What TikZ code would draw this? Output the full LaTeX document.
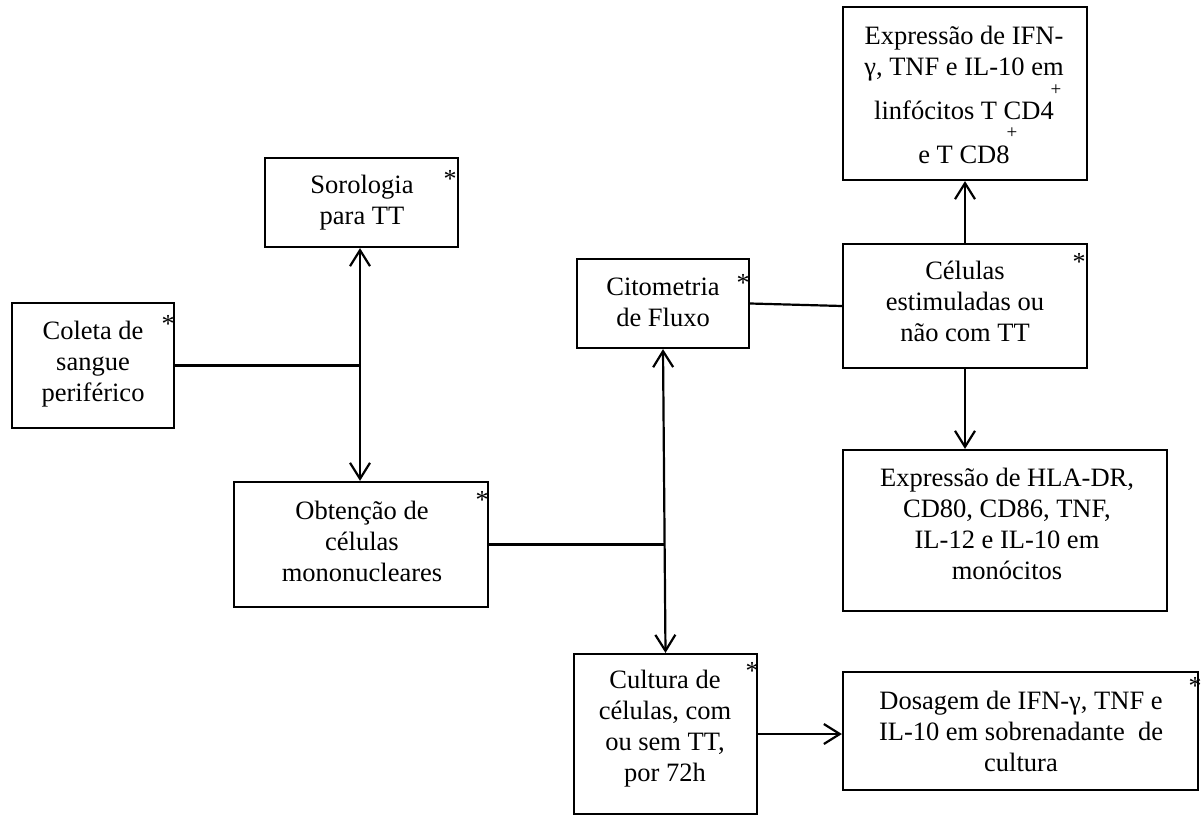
\documentclass[tikz,border=0pt]{standalone}
\usepackage{fontspec}
\setmainfont{Liberation Serif}
\usetikzlibrary{arrows.meta,calc}
\begin{document}
\begin{tikzpicture}[x=1pt,y=-1pt,
  box/.style={draw, line width=2.2pt, inner sep=0pt},
  txt/.style={align=center, inner sep=0pt, font=\fontsize{26.5}{31}\selectfont},
  ast/.style={inner sep=0pt, font=\fontsize{26}{26}\selectfont},
  plusmark/.style={inner sep=0pt, font=\fontsize{19}{19}\selectfont},
  conn/.style={line width=2.2pt},
  arr/.style={conn, -{Straight Barb[length=16pt,width=20pt]}},
  darr/.style={conn, {Straight Barb[length=16pt,width=20pt]}-{Straight Barb[length=16pt,width=20pt]}}
]
\useasboundingbox (0,0) rectangle (1202,816);

% boxes
\node[box, minimum width=162pt, minimum height=125pt] (coleta) at (93,365.5) {};
\node[box, minimum width=193pt, minimum height=89pt] (soro) at (361.5,202.5) {};
\node[box, minimum width=254pt, minimum height=125pt] (obt) at (361,544.5) {};
\node[box, minimum width=172pt, minimum height=89pt] (cit) at (663,303.5) {};
\node[box, minimum width=244pt, minimum height=124pt] (cel) at (965,306) {};
\node[box, minimum width=244pt, minimum height=173pt] (top) at (965,93.5) {};
\node[box, minimum width=324pt, minimum height=161pt] (hla) at (1005,530.5) {};
\node[box, minimum width=183pt, minimum height=160pt] (cult) at (665.5,734) {};
\node[box, minimum width=355pt, minimum height=118pt] (dos) at (1020.5,731) {};

% texts
\node[txt] (coleta-t) at (93,364) {Coleta de\\sangue\\periférico};
\node[txt] (soro-t) at (362,202.5) {Sorologia\\para TT};
\node[txt] (obt-t) at (362,541) {Obtenção de\\células\\mononucleares};
\node[txt] (cit-t) at (663,302.5) {Citometria\\de Fluxo};
\node[txt] (cel-t) at (965,301) {Células\\estimuladas ou\\não com TT};
\node[txt] (top-t) at (964,95) {Expressão de IFN-\\γ, TNF e IL-10 em\\[13pt]linfócitos T CD4\\[13pt]e T CD8};
\node[plusmark] (plus1) at (1056,90) {+};
\node[plusmark] (plus2) at (1012,133) {+};
\node[txt] (hla-t) at (1007,524) {Expressão de HLA-DR,\\CD80, CD86, TNF,\\IL-12 e IL-10 em\\monócitos};
\node[txt] (cult-t) at (665,729) {Cultura de\\células, com\\ou sem TT,\\por 72h};
\node[txt] (dos-t) at (1021,731) {Dosagem de IFN-γ, TNF e\\IL-10 em sobrenadante~ de\\cultura};

% asterisks
\node[ast] (a1) at (168,324) {*};
\node[ast] (a2) at (450,179) {*};
\node[ast] (a3) at (482,500) {*};
\node[ast] (a4) at (743,283) {*};
\node[ast] (a5) at (1079,262) {*};
\node[ast] (a6) at (752,671) {*};
\node[ast] (a7) at (1195,686) {*};

% connectors
\coordinate (j1) at (360,365.5);
\draw[conn] (coleta.east) -- (j1);
\draw[darr] (j1 |- soro.south) -- (j1 |- obt.north);
\coordinate (j2) at (665,544.5);
\draw[conn] (obt.east) -- (j2);
\draw[darr] (cit.south) -- (cult.north);
\draw[conn] (cit.east) -- (cel.west);
\draw[arr] (cel.north) -- (top.south);
\draw[arr] (cel.south) -- (cel.south |- hla.north);
\draw[arr] (cult.east) -- (cult.east -| dos.west);
\end{tikzpicture}
\end{document}
